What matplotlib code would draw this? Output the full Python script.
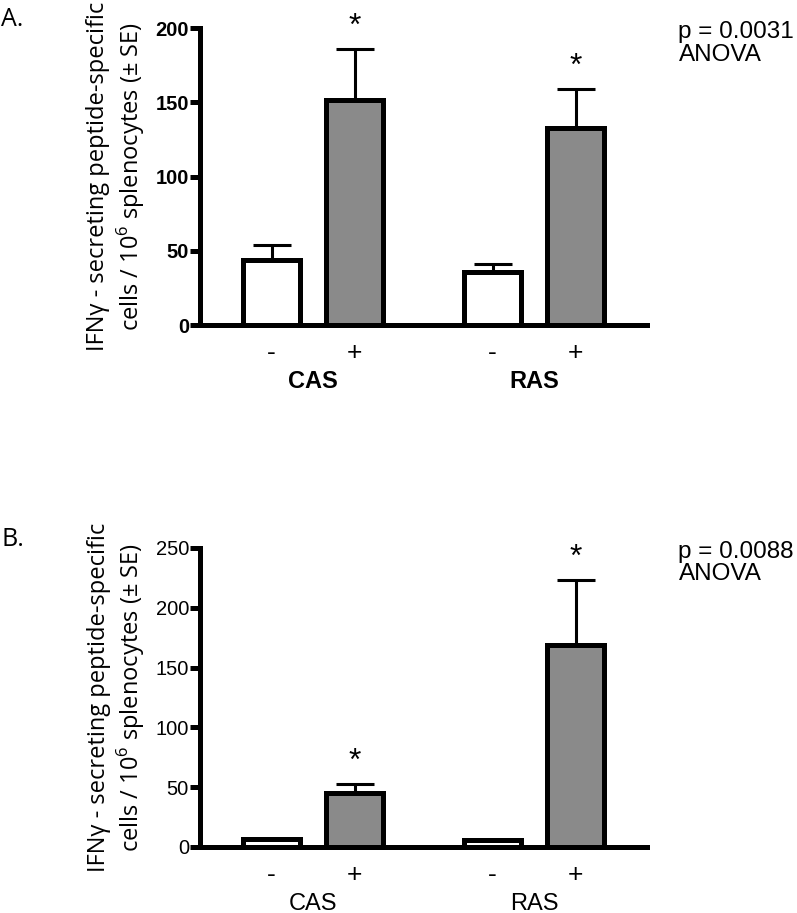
import matplotlib
matplotlib.use("Agg")
import matplotlib.pyplot as plt
import numpy as np

# data
groups = ["CAS", "RAS"]
treat_labels = ["-", "+", "-", "+"]
a_means = [44, 152, 36, 133]
a_err = [10, 34, 5, 26]
b_means = [7, 45, 6, 169]
b_err = [0, 8, 0, 54]
p_texts = ["p = 0.0031\nANOVA", "p = 0.0088\nANOVA"]

plt.rcParams["mathtext.fontset"] = "custom"
plt.rcParams["mathtext.rm"] = "Open Sans"

pos = np.array([0, 1, 2.66, 3.66])
gray = "#8a8a8a"
colors = ["white", gray, "white", gray]
lw = 3.6

fig = plt.figure(figsize=(7.97, 9.13), dpi=100)
ax_a = fig.add_axes([0.251, 0.644, 0.561, 0.325])
ax_b = fig.add_axes([0.251, 0.0723, 0.561, 0.3275])


def draw(ax, means, err, ymax, step, bold, ptext, letter):
    weight = "bold" if bold else "normal"
    ax.bar(pos, means, width=0.68, color=colors, edgecolor="black",
           linewidth=lw, zorder=2)
    ax.errorbar(pos, means, yerr=[np.zeros(4), err], fmt="none",
                ecolor="black", elinewidth=2.2, capsize=14, capthick=2.2,
                zorder=1)
    for x, m, e, c in zip(pos, means, err, colors):
        if c != "white":
            ax.annotate("*", (x, m + e), xytext=(0, 5), textcoords="offset points",
                        ha="center", va="bottom", fontsize=23,
                        family="Liberation Sans", clip_on=False)
    ax.set_xlim(-0.86, 4.52)
    ax.set_ylim(0, ymax)
    ax.set_yticks(np.arange(0, ymax + 1, step))
    ax.set_xticks([])
    for s in ["top", "right"]:
        ax.spines[s].set_visible(False)
    for s in ["left", "bottom"]:
        ax.spines[s].set_linewidth(lw)
    ax.tick_params(axis="y", length=7, width=lw, direction="out", pad=1)
    for t in ax.get_yticklabels():
        t.set_fontsize(14.5)
        t.set_family("Liberation Sans")
        t.set_fontweight(weight)
    for x, t in zip(pos, treat_labels):
        ax.text(x, -0.095, t, transform=ax.get_xaxis_transform(), ha="center",
                va="center", fontsize=19, family="Liberation Sans")
    for i, g in enumerate(groups):
        ax.text(pos[2 * i:2 * i + 2].mean(), -0.19, g,
                transform=ax.get_xaxis_transform(), ha="center", va="center",
                fontsize=17, family="Liberation Sans", fontweight=weight)
    ax.set_ylabel("IFNγ - secreting peptide-specific\ncells / 10$^{6}$ splenocytes (± SE)",
                  fontsize=17, family="Open Sans", labelpad=6, linespacing=1.2)
    ax.text(1.07, 1.025, ptext, transform=ax.transAxes, ha="left", va="top",
            fontsize=17.5, family="Liberation Sans", linespacing=1.05)
    ax.text(-0.445, 1.03, letter, transform=ax.transAxes, ha="left", va="center",
            fontsize=18, family="Open Sans")


draw(ax_a, a_means, a_err, 200, 50, True, p_texts[0], "A.")
draw(ax_b, b_means, b_err, 250, 50, False, p_texts[1], "B.")

fig.savefig("out.png", dpi=100)
